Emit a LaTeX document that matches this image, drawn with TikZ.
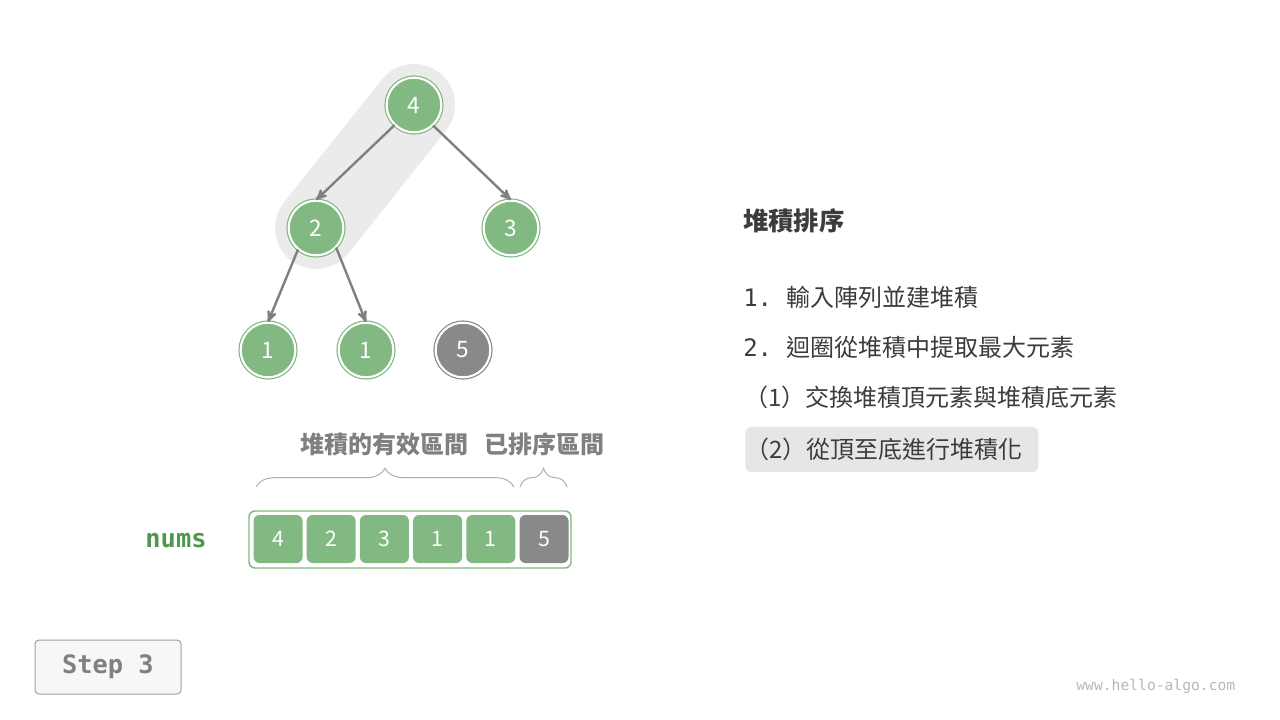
\documentclass[tikz,border=0pt]{standalone}
\usepackage{fontspec}
\setmainfont{Noto Sans CJK TC}
\setmonofont{DejaVu Sans Mono}
\usepackage{xcolor}
\usetikzlibrary{arrows, positioning, backgrounds, decorations.pathreplacing}
\definecolor{heapgreen}{RGB}{130,185,130}
\definecolor{numsgreen}{RGB}{80,150,80}
\definecolor{sortgray}{RGB}{137,137,137}
\definecolor{edgegray}{RGB}{128,128,128}
\definecolor{capsulegray}{RGB}{235,235,235}
\definecolor{bracegray}{RGB}{175,175,175}
\definecolor{textdark}{RGB}{60,60,60}
\definecolor{markgray}{RGB}{230,230,230}
\tikzset{
x=0.75pt, y=-0.75pt,
>=stealth',
heapnode/.style={%
    circle,
    minimum size=41pt,
    inner sep=0pt,
    fill=heapgreen,
    draw=heapgreen,
    double=white,
    double distance=1.6pt,
    line width=0.9pt,
    text=white,
    font=\fontsize{17}{17}\selectfont
},
sortednode/.style={heapnode, fill=sortgray, draw=sortgray},
heapedge/.style={->, draw=edgegray, line width=1.8pt},
cell/.style={%
    rectangle,
    rounded corners=4.5pt,
    minimum width=36.75pt,
    minimum height=36pt,
    inner sep=0pt,
    fill=heapgreen,
    text=white,
    font=\fontsize{16}{16}\selectfont
},
sortedcell/.style={cell, fill=sortgray},
arraybox/.style={%
    rectangle, rounded corners=4.5pt, minimum width=241.5pt, minimum height=42.75pt,
    draw=heapgreen, line width=1.1pt, fill=white
},
rangebrace/.style={decorate, decoration={brace, amplitude=14pt}, draw=bracegray, line width=0.75pt},
rangelabel/.style={text=edgegray, font=\fontsize{18}{18}\selectfont\bfseries},
steptext/.style={anchor=west, inner xsep=0pt, text=textdark, font=\fontsize{18}{18}\selectfont},
}

\begin{document}
\begin{tikzpicture}

\useasboundingbox (0,0) rectangle (1280,720);

% heap
\node[heapnode] (n4) at (414,105) {4};
\node[heapnode] (n2) at (316,228) {2};
\node[heapnode] (n3) at (511,228) {3};
\node[heapnode] (n1a) at (268,350) {1};
\node[heapnode] (n1b) at (366,350) {1};
\node[sortednode] (n5) at (463,350) {5};

\begin{scope}[on background layer]
\fill[white] (0,0) rectangle (1280,720);
\draw[capsulegray, line width=61.5pt, line cap=round] (n4.center) -- (n2.center);
\end{scope}

\draw[heapedge] (n4.-134) -- (n2.north);
\draw[heapedge] (n4.-47) -- (n3.north);
\draw[heapedge] (n2.-130) -- (n1a.north);
\draw[heapedge] (n2.-44) -- (n1b.north);

% array
\node[arraybox] (arr) at (410,539.5) {};
\node[cell] (c0) at (278,539) {4};
\node[cell,right=2.75pt of c0] (c1) {2};
\node[cell,right=2.75pt of c1] (c2) {3};
\node[cell,right=2.75pt of c2] (c3) {1};
\node[cell,right=2.75pt of c3] (c4) {1};
\node[sortedcell,right=2.75pt of c4] (c5) {5};
\node[text=numsgreen, font=\fontsize{19}{19}\selectfont\ttfamily\bfseries] (nums) at (176,541) {nums};

% ranges
\coordinate (heapL) at (256,487);
\coordinate (heapR) at (514,487);
\coordinate (sortL) at (520,487);
\coordinate (sortR) at (567,487);
\draw[rangebrace] (heapL) -- (heapR);
\draw[rangebrace] (sortL) -- (sortR);
\node[rangelabel] (heaplabel) at (384,444) {堆積的有效區間};
\node[rangelabel] (sortlabel) at (544,444) {已排序區間};

% steps
\node[steptext, font=\fontsize{19}{19}\selectfont\bfseries] (title) at (743,221) {堆積排序};
\node[steptext] (s1) at (743,297) {\texttt{1.\ }輸入陣列並建堆積};
\node[steptext] (s2) at (743,347) {\texttt{2.\ }迴圈從堆積中提取最大元素};
\node[steptext] (s21) at (744,397) {（1）交換堆積頂元素與堆積底元素};
\node[steptext, fill=markgray, rounded corners=4.5pt, minimum height=34pt,
      text width=219.75pt, align=left] (s22) at (745,449.5) {（2）從頂至底進行堆積化};

% footer
\node[rectangle, rounded corners=3pt, minimum width=109.5pt, minimum height=40.5pt,
      fill=black!3, draw=black!37, line width=0.75pt, text=edgegray,
      font=\fontsize{19}{19}\selectfont\ttfamily\bfseries] (stepbox) at (108,667) {Step 3};
\node[anchor=east, text=black!28, font=\fontsize{11}{11}\selectfont\ttfamily] (site) at (1240,686) {www.hello-algo.com};

\end{tikzpicture}
\end{document}
